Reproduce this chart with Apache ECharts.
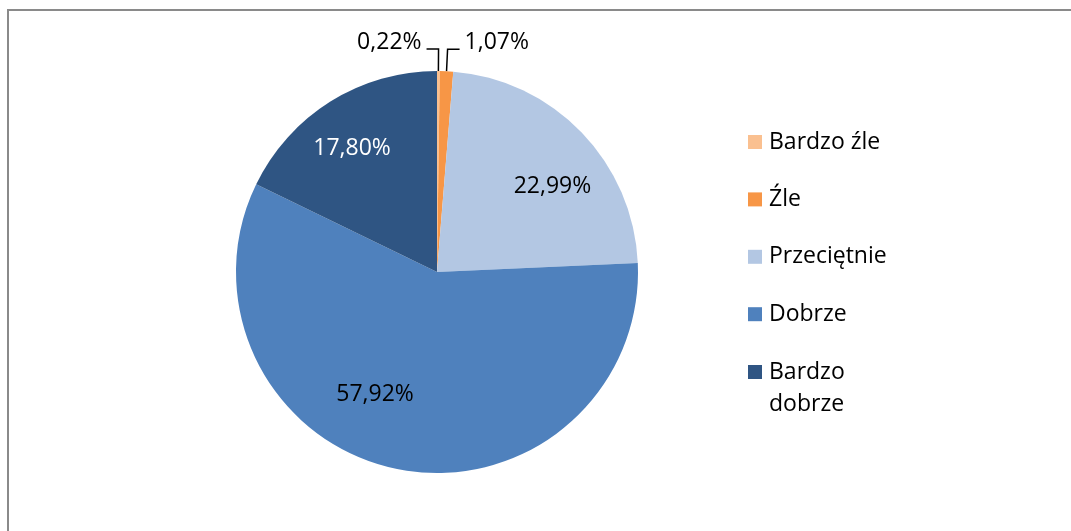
<!DOCTYPE html>
<html>
<head>
<meta charset="utf-8">
<script src="https://cdn.jsdelivr.net/npm/echarts@6/dist/echarts.min.js"></script>
<style>
  html, body { margin: 0; padding: 0; background: #fff; }
  #frame { position: absolute; left: 7px; top: 9px; width: 1100px; height: 600px;
           border-left: 2px solid #8a8a8a; border-top: 2px solid #8a8a8a; }
  #chart { position: absolute; left: 0; top: 0; width: 1071px; height: 531px; }
</style>
</head>
<body>
<div id="frame"></div>
<div id="chart"></div>
<script>
const categories = ['Bardzo źle', 'Źle', 'Przeciętnie', 'Dobrze', 'Bardzo dobrze'];
const values = [0.22, 1.07, 22.99, 57.92, 17.80];
const colors = ['#FAC090', '#F79646', '#B3C7E3', '#4F81BD', '#2F5583'];
const labelColors = ['#000', '#000', '#000', '#000', '#fff'];
const insideNudge = { 2: [41, -14], 3: [-41, 21], 4: [-30, -36] };
const FONT = 'Open Sans';

const chart = echarts.init(document.getElementById('chart'), null, { renderer: 'canvas' });

const data = categories.map((name, i) => {
  const inside = insideNudge[i] !== undefined;
  return {
    name,
    value: values[i],
    itemStyle: { color: colors[i] },
    label: { position: inside ? 'inside' : 'outside', color: labelColors[i] },
    labelLine: { show: !inside }
  };
});

const legendText = { fontFamily: FONT, fontSize: 23, color: '#000', lineHeight: 32, padding: [0, 0, 0, 2] };

chart.setOption({
  backgroundColor: 'transparent',
  animation: false,
  legend: [{
    orient: 'vertical',
    left: 743,
    top: 121,
    itemWidth: 14,
    itemHeight: 14,
    itemGap: 25.4,
    icon: 'rect',
    selectedMode: false,
    textStyle: legendText,
    data: categories.slice(0, 4)
  }, {
    orient: 'vertical',
    left: 743,
    top: 319,
    itemWidth: 14,
    itemHeight: 14,
    icon: 'rect',
    selectedMode: false,
    textStyle: legendText,
    formatter: name => '\n' + name.replace(' ', '\n'),
    data: categories.slice(4)
  }],
  series: [{
    type: 'pie',
    center: [437, 272],
    radius: 201,
    startAngle: 90,
    clockwise: true,
    avoidLabelOverlap: false,
    data,
    label: {
      fontFamily: FONT,
      fontSize: 23,
      color: '#000',
      formatter: p => p.value.toFixed(2).replace('.', ',') + '%'
    },
    labelLine: { length: 22, length2: 12, lineStyle: { color: '#000', width: 1.5 } },
    emphasis: { disabled: true },
    labelLayout: function (params) {
      const n = insideNudge[params.dataIndex];
      if (n) return { dx: n[0], dy: n[1] };
      const p = params.labelLinePoints;
      if (!p) return {};
      if (params.dataIndex === 0) {
        const x1 = p[1][0];
        const len = p[2][0] - x1;
        const x2 = x1 - len;
        return {
          x: x2 - 5,
          y: p[2][1] - 7,
          align: 'right',
          labelLinePoints: [p[0], p[1], [x2, p[2][1]]]
        };
      }
      return { x: p[2][0] + 5, y: p[2][1] - 7, align: 'left', labelLinePoints: p };
    }
  }]
});
</script>
</body>
</html>
